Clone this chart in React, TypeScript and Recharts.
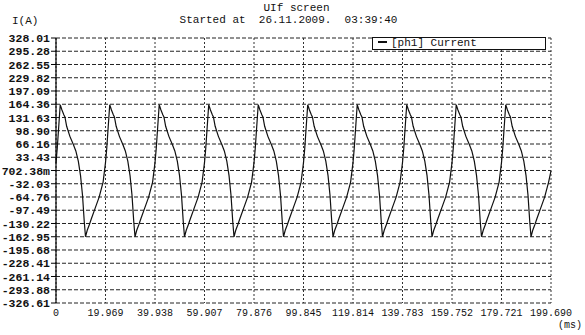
import React from 'react';
import { LineChart, Line, XAxis, YAxis, CartesianGrid } from 'recharts';

// one cycle of the current waveform (ms offset, A)
const cycleMs = [0, 0.5, 1.7, 2.4, 3.2, 3.6, 4.3, 5.6, 7.0, 8.0, 9.0, 9.9, 10.7, 11.4, 11.9, 12.6, 13.4, 14.3, 15.7, 17.4, 19.0];
const cycleA = [20, 55, 163, 150, 138, 133, 110, 85, 65, 49, 24, -12, -61, -126, -163, -147, -134, -118, -94, -65, -28];
const period = 19.969;
const cycles = 10;
const endPoint = { t: 199.69, i: 0 };

const xTicks = [0, 19.969, 39.938, 59.907, 79.876, 99.845, 119.814, 139.783, 159.752, 179.721, 199.69];
const xLabels = ['0', '19.969', '39.938', '59.907', '79.876', '99.845', '119.814', '139.783', '159.752', '179.721', '199.690'];
const yTicks = [328.01, 295.28, 262.55, 229.82, 197.09, 164.36, 131.63, 98.9, 66.16, 33.43, 0.70238, -32.03, -64.76, -97.49, -130.22, -162.95, -195.68, -228.41, -261.14, -293.88, -326.61];
const yLabels = ['328.01', '295.28', '262.55', '229.82', '197.09', '164.36', '131.63', '98.90', '66.16', '33.43', '702.38m', '-32.03', '-64.76', '-97.49', '-130.22', '-162.95', '-195.68', '-228.41', '-261.14', '-293.88', '-326.61'];

const data: { t: number; i: number }[] = [];
for (let c = 0; c < cycles; c++) {
  cycleMs.forEach((ms, k) => data.push({ t: +(c * period + ms).toFixed(3), i: cycleA[k] }));
}
data.push(endPoint);

const mono = '"Liberation Mono", "DejaVu Sans Mono", monospace';

export default function App() {
  const fmtX = (v: number) => {
    const k = xTicks.findIndex((x) => Math.abs(x - v) < 1e-6);
    return k >= 0 ? xLabels[k] : String(v);
  };
  const fmtY = (v: number) => {
    const k = yTicks.findIndex((y) => Math.abs(y - v) < 1e-6);
    return k >= 0 ? yLabels[k] : String(v);
  };

  return (
    <div style={{ position: 'absolute', left: 0, top: 0, width: 585, height: 335, background: '#fff', fontFamily: mono, color: '#111' }}>
      <LineChart width={585} height={335} data={data} margin={{ top: 38, right: 34, bottom: 0, left: 0 }}>
        <CartesianGrid vertical={false} stroke="#222" strokeDasharray="4 2" />
        <CartesianGrid horizontal={false} stroke="#333" strokeDasharray="2 2" />
        <XAxis
          dataKey="t"
          type="number"
          domain={[0, 199.69]}
          ticks={xTicks}
          interval={0}
          tickFormatter={fmtX}
          axisLine={false}
          tickLine={false}
          tickSize={4}
          tickMargin={2}
          height={32}
          tick={{ fontSize: 10, fill: '#111', fontFamily: mono }}
        />
        <YAxis
          type="number"
          domain={[-326.61, 328.01]}
          ticks={yTicks}
          interval={0}
          tickFormatter={fmtY}
          width={56}
          axisLine={{ stroke: '#000', strokeWidth: 1.2 }}
          tickLine={{ stroke: '#000' }}
          tickSize={5}
          tickMargin={1}
          tick={{ fontSize: 11.5, fill: '#111', fontFamily: mono, fontWeight: 'bold' }}
        />
        <Line dataKey="i" type="linear" stroke="#111" strokeWidth={1.2} dot={false} isAnimationActive={false} />
      </LineChart>

      <div style={{ position: 'absolute', left: 0, top: 2, width: 585, textAlign: 'center', fontSize: 11, lineHeight: '12px' }}>
        <div style={{ marginLeft: 8 }}>UIf screen</div>
        <div style={{ whiteSpace: 'pre', marginLeft: -8 }}>{'Started at  26.11.2009.  03:39:40'}</div>
      </div>
      <div style={{ position: 'absolute', left: 12, top: 15, fontSize: 11 }}>I(A)</div>
      <div style={{ position: 'absolute', left: 558, top: 320, fontSize: 10, whiteSpace: 'nowrap' }}>(ms)</div>

      <div
        style={{
          position: 'absolute',
          left: 372,
          top: 37,
          width: 172,
          height: 11,
          border: '1px solid #111',
          background: '#fff',
          fontSize: 11,
          lineHeight: '11px',
          whiteSpace: 'pre',
        }}
      >
        <span style={{ display: 'inline-block', width: 9, height: 1.5, background: '#111', verticalAlign: 'middle', margin: '0 4px 2px 5px' }} />
        <span>[ph1] Current</span>
      </div>
    </div>
  );
}
